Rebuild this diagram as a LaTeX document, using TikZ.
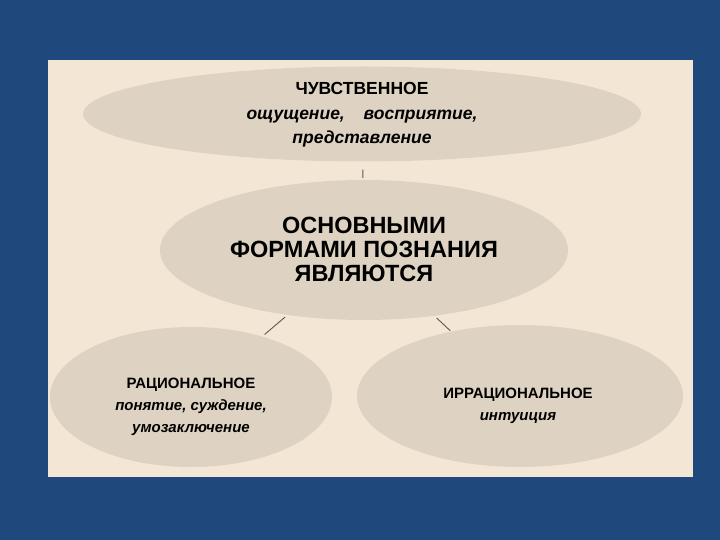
\documentclass[tikz,border=0pt]{standalone}
\usepackage{fontspec}
\setmainfont{Liberation Sans}
\usetikzlibrary{shapes.geometric}
\definecolor{slideblue}{RGB}{31,73,125}
\definecolor{panelbeige}{RGB}{243,230,212}
\definecolor{ovalbeige}{RGB}{222,211,194}
\tikzset{
	ovalstyle/.style={ellipse,fill=ovalbeige,inner sep=0pt},
	textstyle/.style={align=center,anchor=base,inner sep=0pt},
	linkstyle/.style={draw=black!65,line width=0.9pt}
}
\begin{document}
\begin{tikzpicture}[x=1pt,y=-1pt]
	\fill[slideblue] (0,0) rectangle (720,540);
	\fill[panelbeige] (48,60) rectangle (693,477);
	\node[ovalstyle,minimum width=558pt,minimum height=95pt] (sens) at (362,114) {};
	\node[ovalstyle,minimum width=408pt,minimum height=140pt] (core) at (364,250) {};
	\node[ovalstyle,minimum width=282pt,minimum height=140pt] (rat) at (191,397) {};
	\node[ovalstyle,minimum width=326pt,minimum height=142pt] (irr) at (520,396) {};
	% base anchor sits on the last line
	\node[textstyle,font=\fontsize{17.5}{24.5}\selectfont\bfseries] (tsens) at (362,144)
		{ЧУВСТВЕННОЕ\\ \itshape ощущение,\hspace{14pt} восприятие,\\ \itshape представление};
	\node[textstyle,font=\fontsize{23.5}{24}\selectfont\bfseries] (tcore) at (364,281)
		{ОСНОВНЫМИ\\ ФОРМАМИ ПОЗНАНИЯ\\ ЯВЛЯЮТСЯ};
	\node[textstyle,font=\fontsize{15}{22}\selectfont\bfseries] (trat) at (191,432)
		{РАЦИОНАЛЬНОЕ\\ \itshape понятие, суждение,\\ \itshape умозаключение};
	\node[textstyle,font=\fontsize{15}{22}\selectfont\bfseries] (tirr) at (518,420)
		{ИРРАЦИОНАЛЬНОЕ\\ \itshape интуиция};
	\draw[linkstyle,shorten <=8pt,shorten >=2pt] (sens) -- (core);
	\draw[linkstyle,shorten <=3pt,shorten >=3pt] (core) -- (rat);
	\draw[linkstyle,shorten <=3pt,shorten >=1pt] (core) -- (irr);
\end{tikzpicture}
\end{document}
